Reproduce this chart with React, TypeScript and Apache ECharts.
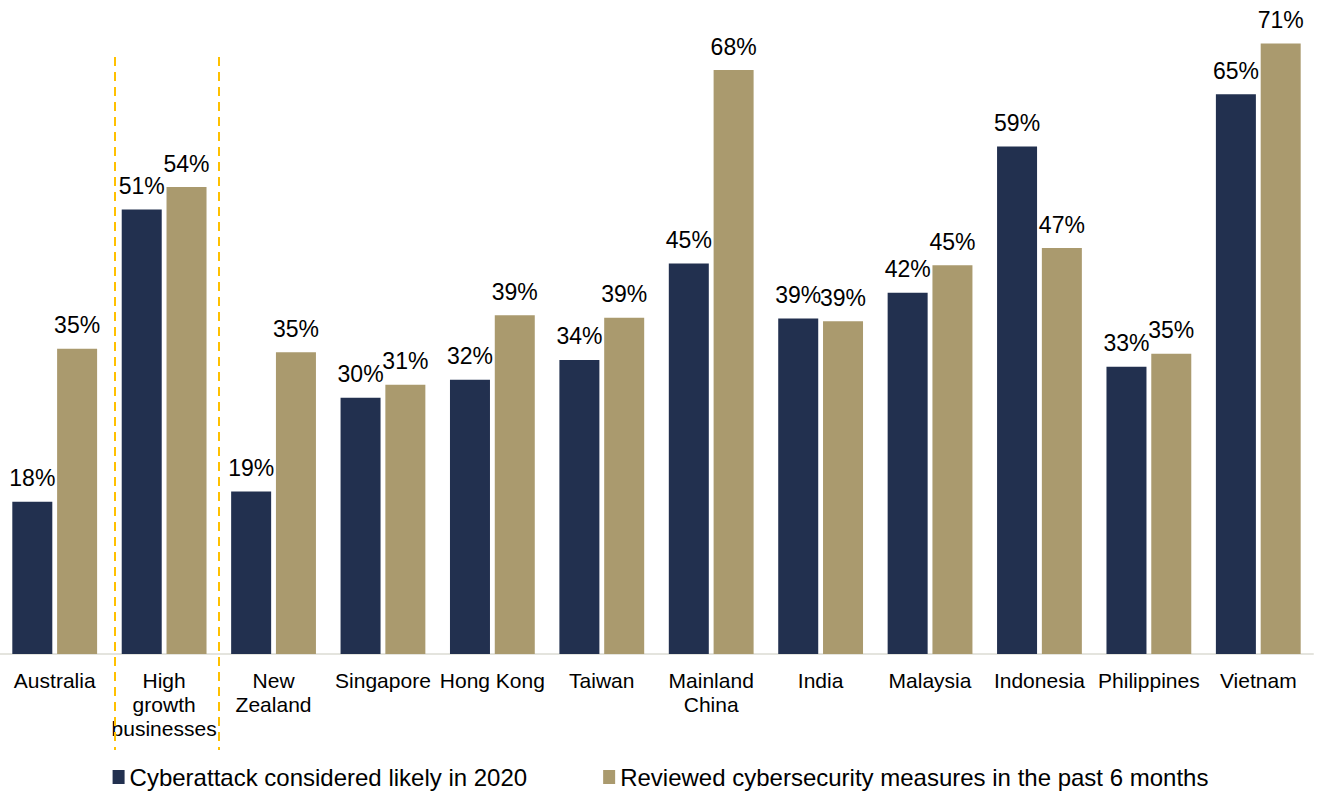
import React, { useEffect, useRef } from "react";
import * as echarts from "echarts";

const categories = [
  "Australia",
  "High\ngrowth\nbusinesses",
  "New\nZealand",
  "Singapore",
  "Hong Kong",
  "Taiwan",
  "Mainland\nChina",
  "India",
  "Malaysia",
  "Indonesia",
  "Philippines",
  "Vietnam",
];

const seriesNames = [
  "Cyberattack considered likely in 2020",
  "Reviewed cybersecurity measures in the past 6 months",
];

// bar heights
const cyberattackLikely = [17.7, 51.7, 18.9, 29.8, 31.9, 34.2, 45.4, 39.0, 42.0, 59.0, 33.4, 65.1];
const reviewedMeasures = [35.5, 54.3, 35.1, 31.3, 39.4, 39.1, 67.9, 38.7, 45.2, 47.2, 34.9, 71.0];

// value labels as printed
const cyberattackLabels = [18, 51, 19, 30, 32, 34, 45, 39, 42, 59, 33, 65];
const reviewedLabels = [35, 54, 35, 31, 39, 39, 68, 39, 45, 47, 35, 71];

const FONT = "'Liberation Sans', Arial, sans-serif";
const NAVY = "#22304f";
const TAN = "#aa9a6e";

export default function App() {
  const ref = useRef<HTMLDivElement>(null);

  useEffect(() => {
    if (!ref.current) return;
    const chart = echarts.init(ref.current, undefined, { renderer: "svg" });
    const dash = {
      stroke: "#ffc000",
      lineWidth: 2,
      lineDash: [9, 6],
    };
    const labelStyle = {
      show: true,
      position: "top",
      distance: 12,
      fontSize: 23,
      color: "#000",
      fontFamily: FONT,
    };
    chart.setOption({
      animation: false,
      textStyle: { fontFamily: FONT },
      grid: { left: -2, right: 8, top: 9, bottom: 142, containLabel: false },
      legend: {
        bottom: 2,
        left: "center",
        itemWidth: 12,
        itemHeight: 14,
        itemGap: 76,
        icon: "rect",
        textStyle: { fontSize: 24, color: "#000", fontFamily: FONT },
        data: seriesNames,
      },
      xAxis: {
        type: "category",
        data: categories,
        axisTick: { show: false },
        axisLine: { lineStyle: { color: "#e4e4de", width: 2 } },
        axisLabel: {
          interval: 0,
          color: "#000",
          fontSize: 21,
          lineHeight: 24,
          margin: 14,
          fontFamily: FONT,
        },
      },
      yAxis: {
        type: "value",
        min: 0,
        max: 75,
        show: false,
        splitLine: { show: false },
      },
      series: [
        {
          name: seriesNames[0],
          type: "bar",
          data: cyberattackLikely,
          barWidth: 40,
          barGap: "12%",
          itemStyle: { color: NAVY },
          label: {
            ...labelStyle,
            formatter: (p: any) => cyberattackLabels[p.dataIndex] + "%",
          },
        },
        {
          name: seriesNames[1],
          type: "bar",
          data: reviewedMeasures,
          barWidth: 40,
          barGap: "12%",
          itemStyle: { color: TAN },
          label: {
            ...labelStyle,
            formatter: (p: any) => reviewedLabels[p.dataIndex] + "%",
          },
        },
      ],
      graphic: [
        { type: "line", shape: { x1: 115, y1: 57, x2: 115, y2: 750 }, style: dash, z: 10 },
        { type: "line", shape: { x1: 219, y1: 57, x2: 219, y2: 750 }, style: dash, z: 10 },
      ],
    });
    return () => chart.dispose();
  }, []);

  return (
    <div
      ref={ref}
      style={{ position: "absolute", left: 0, top: 0, width: 1321, height: 796, background: "#fff" }}
    />
  );
}
